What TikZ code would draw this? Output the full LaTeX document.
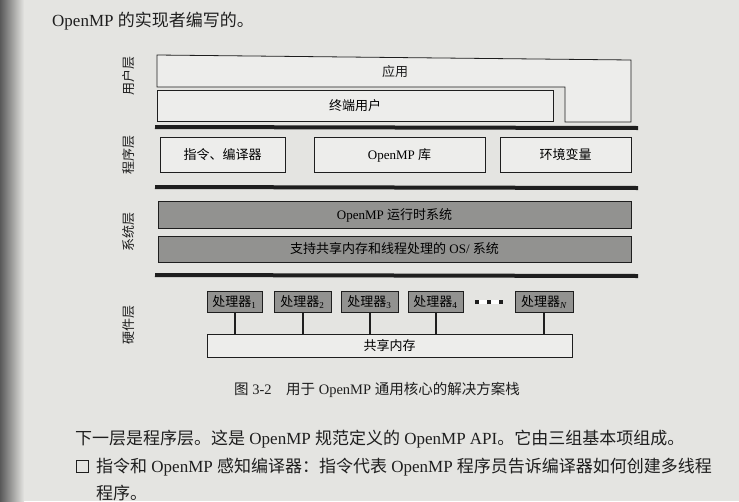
\documentclass[tikz,border=0pt]{standalone}
\usepackage{fontspec}
\setmainfont{Liberation Serif}
\newfontfamily\cjk{Noto Sans CJK SC}
\definecolor{paper}{HTML}{E4E4E1}
\definecolor{boxfill}{HTML}{EDEDEB}
\definecolor{darkfill}{HTML}{929290}
\definecolor{ink}{HTML}{1E1E1E}
\newcommand{\zh}[1]{{\cjk #1}}
\tikzset{
  lightbox/.style={draw=ink, line width=0.8pt, fill=boxfill, inner sep=0pt, font=\fontsize{13}{15}\selectfont},
  darkbox/.style={draw=ink, line width=0.8pt, fill=darkfill, inner sep=0pt, font=\fontsize{13}{15}\selectfont},
  cpubox/.style={draw=ink, line width=1pt, fill=darkfill, minimum height=21pt, minimum width=55pt, inner sep=0pt, font=\fontsize{13}{15}\selectfont},
  layerbar/.style={line width=4pt, draw=ink},
  layerlabel/.style={rotate=90, font=\fontsize{13}{15}\selectfont, text=ink},
  bodytext/.style={anchor=base west, inner sep=0pt, font=\fontsize{17}{20}\selectfont, text=ink},
  bus/.style={line width=2pt, draw=ink}
}
\begin{document}
\begin{tikzpicture}[x=1pt, y=-1pt]
  % page and binding shadow
  \fill[paper] (0,0) rectangle (739,501);
  \useasboundingbox (0,0) rectangle (739,501);
  \shade[left color=black!65, right color=paper] (0,0) rectangle (24,501);

  % running text above the figure
  \node[bodytext] (t0) at (52,26) {OpenMP \zh{的实现者编写的。}};

  % user layer: application (stepped outline) and end user
  \draw[line width=0.8pt, draw=ink, fill=boxfill]
    (157,55) -- (631,60) -- (631,122) -- (565,122) -- (565,87) -- (157,87) -- cycle;
  \node[font=\fontsize{13}{15}\selectfont, text=ink] (app) at (395,72) {\zh{应用}};
  \node[lightbox, minimum width=396pt, minimum height=31pt] (user) at (355,106) {\zh{终端用户}};

  \draw[layerbar] (155,127) -- (638,128);

  % program layer
  \node[lightbox, minimum width=125pt, minimum height=35pt] (dir) at (222.5,155) {\zh{指令、编译器}};
  \node[lightbox, minimum width=171pt, minimum height=35pt] (lib) at (399.5,155) {OpenMP \zh{库}};
  \node[lightbox, minimum width=131pt, minimum height=35pt] (env) at (565.5,155) {\zh{环境变量}};

  \draw[layerbar] (155,187) -- (638,188);

  % system layer
  \node[darkbox, minimum width=473pt, minimum height=27pt] (rt) at (394.5,215) {OpenMP \zh{运行时系统}};
  \node[darkbox, minimum width=473pt, minimum height=26pt] (os) at (394.5,249) {\zh{支持共享内存和线程处理的} OS/ \zh{系统}};

  \draw[layerbar] (155,275) -- (638,276);

  % hardware layer
  \node[cpubox] (p1) at (234.5,302) {\zh{处理器}\textsubscript{1}};
  \node[cpubox, minimum width=57pt] (p2) at (302.5,302) {\zh{处理器}\textsubscript{2}};
  \node[cpubox, minimum width=57pt] (p3) at (369.5,302) {\zh{处理器}\textsubscript{3}};
  \node[cpubox] (p4) at (435.5,302) {\zh{处理器}\textsubscript{4}};
  \node[inner sep=0pt, fill=ink!0] (dots) at (489,302)
    {\textcolor{ink}{\rule{4pt}{4pt}\hspace{8pt}\rule{4pt}{4pt}\hspace{8pt}\rule{4pt}{4pt}}};
  \node[cpubox, minimum width=58pt] (pn) at (544,302) {\zh{处理器}\textsubscript{\itshape N}};
  \node[lightbox, minimum width=365pt, minimum height=23pt] (mem) at (389.5,345.5) {\zh{共享内存}};
  \foreach \p in {p1,p2,p3,p4,pn}
    \draw[bus] (\p.south) -- (\p.south |- mem.north);

  % layer names
  \node[layerlabel] (l1) at (129,76) {\zh{用户层}};
  \node[layerlabel] (l2) at (129,155) {\zh{程序层}};
  \node[layerlabel] (l3) at (129,232) {\zh{系统层}};
  \node[layerlabel] (l4) at (129,325) {\zh{硬件层}};

  % caption
  \node[anchor=base, font=\fontsize{14.5}{16}\selectfont, text=ink] (cap) at (377,394)
    {\zh{图} 3-2\quad \zh{用于} OpenMP \zh{通用核心的解决方案栈}};

  % running text below the figure
  \node[bodytext] (t1) at (75,444) {\zh{下一层是程序层。这是} OpenMP \zh{规范定义的} OpenMP API\zh{。它由三组基本项组成。}};
  \draw[line width=1pt, draw=ink] (76,460) rectangle (88,472);
  \node[bodytext] (t2) at (96,472) {\zh{指令和} OpenMP \zh{感知编译器：指令代表} OpenMP \zh{程序员告诉编译器如何创建多线程}};
  \node[bodytext] (t3) at (96,499) {\zh{程序。}};
\end{tikzpicture}
\end{document}
